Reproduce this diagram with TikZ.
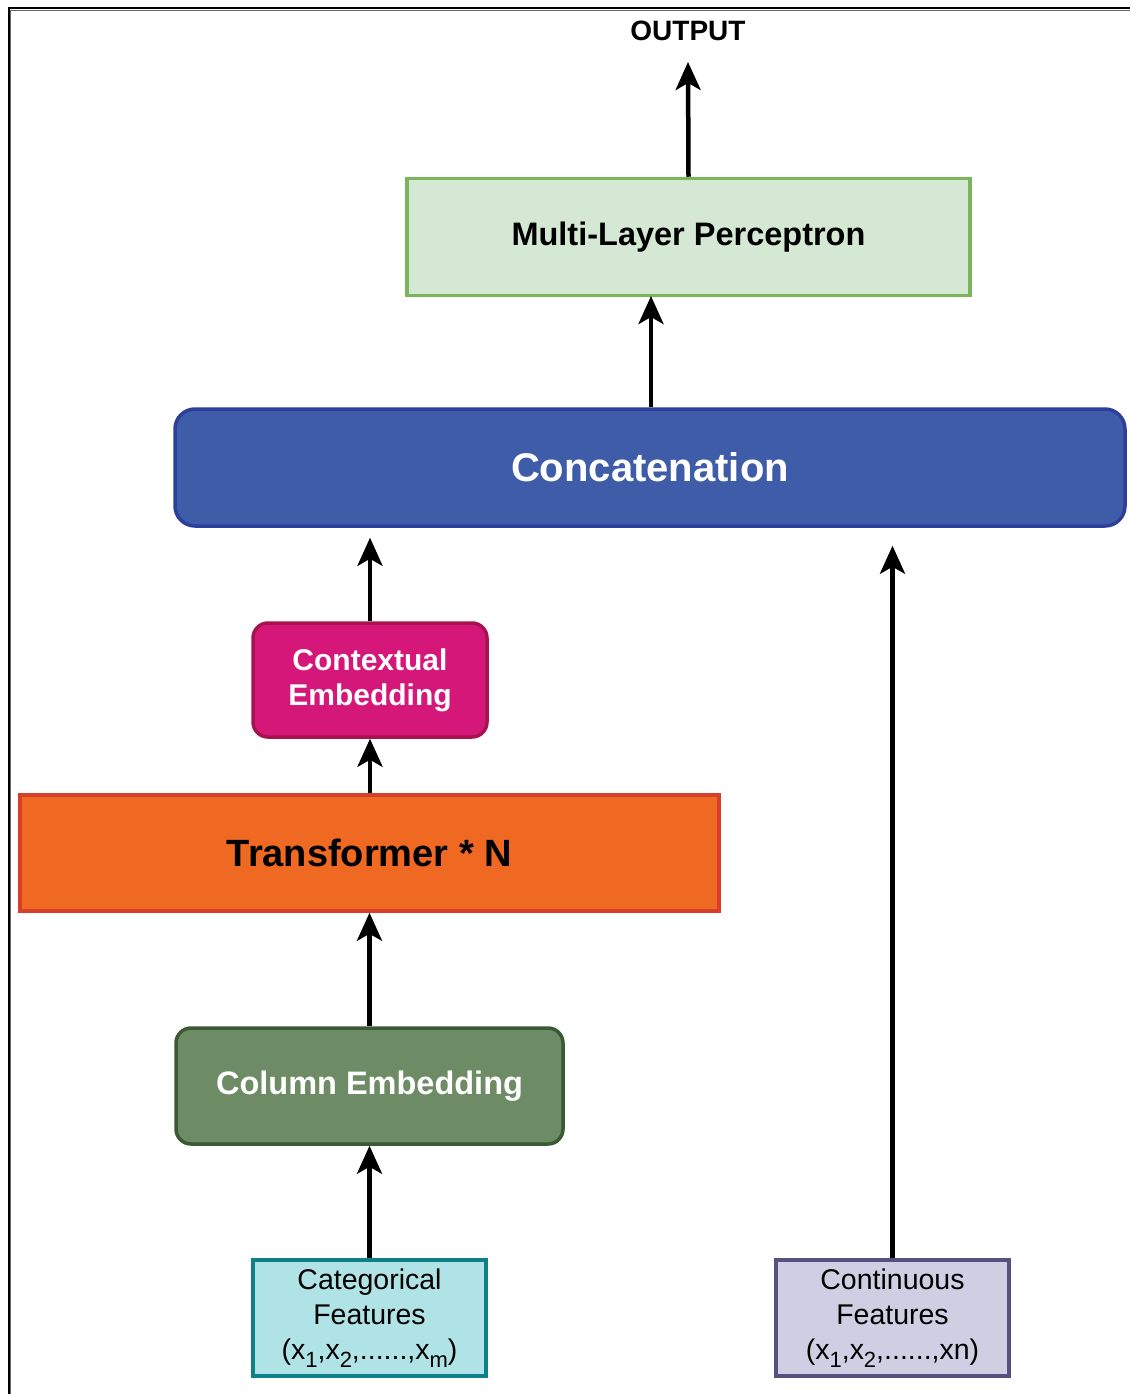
\documentclass[tikz,border=0pt]{standalone}
\usepackage{fontspec}
\setmainfont{Liberation Sans}
\usetikzlibrary{arrows.meta}

\definecolor{mlpfill}{HTML}{D5E8D4}
\definecolor{mlpline}{HTML}{7AB55C}
\definecolor{catfill}{HTML}{3E5CA8}
\definecolor{catline}{HTML}{2D3F9A}
\definecolor{ctxfill}{HTML}{D6177A}
\definecolor{ctxline}{HTML}{A8124F}
\definecolor{trfill}{HTML}{F06922}
\definecolor{trline}{HTML}{D6402A}
\definecolor{colfill}{HTML}{6D8B64}
\definecolor{colline}{HTML}{3A5934}
\definecolor{cfill}{HTML}{B0E3E6}
\definecolor{cline}{HTML}{0E8088}
\definecolor{nfill}{HTML}{D0CEE2}
\definecolor{nline}{HTML}{56517E}

% lowered index in a feature list
\newcommand{\idx}[1]{\raisebox{-0.28em}{\fontsize{22}{22}\selectfont #1}}

\tikzset{
  block/.style={draw, line width=3.5pt, inner sep=0pt, align=center},
  bigbold/.style={font=\bfseries\fontsize{#1}{#1}\selectfont},
  twoline/.style={font=\bfseries\fontsize{30}{35}\selectfont},
  featbox/.style={block, minimum width=233, minimum height=116,
                  font=\fontsize{28.5}{35}\selectfont},
  arr/.style={line width=4.5pt, -{Stealth[length=28pt,width=25pt,inset=7pt]}}
}

\begin{document}
\begin{tikzpicture}[x=1pt,y=-1pt]
  \useasboundingbox (0,0) rectangle (1130,1394);

  % outer frame with a grey inner edge
  \draw[black!60, line width=1.5pt] (10.5,1394) -- (10.5,10.5) -- (1130,10.5);
  \draw[black, line width=2pt] (8.5,1394) -- (8.5,8.5) -- (1130,8.5);

  % blocks
  \node[bigbold=28] (out) at (688,31) {OUTPUT};
  \coordinate (outtip) at (688,62);

  \node[block, fill=mlpfill, draw=mlpline, minimum width=563, minimum height=117,
        bigbold=32.5] (mlp) at (688.5,237) {Multi-Layer Perceptron};

  \node[block, fill=catfill, draw=catline, rounded corners=20pt, minimum width=950,
        minimum height=117, text=white, bigbold=40] (concat) at (650,467.5) {Concatenation};

  \node[block, fill=ctxfill, draw=ctxline, rounded corners=15pt, minimum width=234,
        minimum height=114, text=white, twoline] (ctx) at (370,680) {Contextual\\Embedding};

  \node[block, fill=trfill, draw=trline, minimum width=699, minimum height=116,
        bigbold=38] (tr) at (369.5,853) {Transformer * N};

  \node[block, fill=colfill, draw=colline, rounded corners=15pt, minimum width=387,
        minimum height=116, text=white, bigbold=32.5] (col) at (369.5,1086) {Column Embedding};

  \node[featbox, fill=cfill, draw=cline] (cat) at (369.5,1318)
    {Categorical\\Features\\(x\idx{1},x\idx{2},......,x\idx{m})};

  \node[featbox, fill=nfill, draw=nline] (cont) at (892.5,1318)
    {Continuous\\Features\\(x\idx{1},x\idx{2},......,xn)};

  % connectors
  \draw[arr] (mlp.north) -- (outtip);
  \draw[arr] (concat.north -| 651,0) -- (651,296);
  \draw[arr] (ctx.north) -- ([yshift=-10pt]ctx.north |- concat.south);
  \draw[arr] (cont.north) -- ([yshift=-18pt]cont.north |- concat.south);
  \draw[arr] (tr.north -| ctx.south) -- (ctx.south);
  \draw[arr] (col.north) -- (col.north |- tr.south);
  \draw[arr] (cat.north) -- (col.south);
\end{tikzpicture}
\end{document}
